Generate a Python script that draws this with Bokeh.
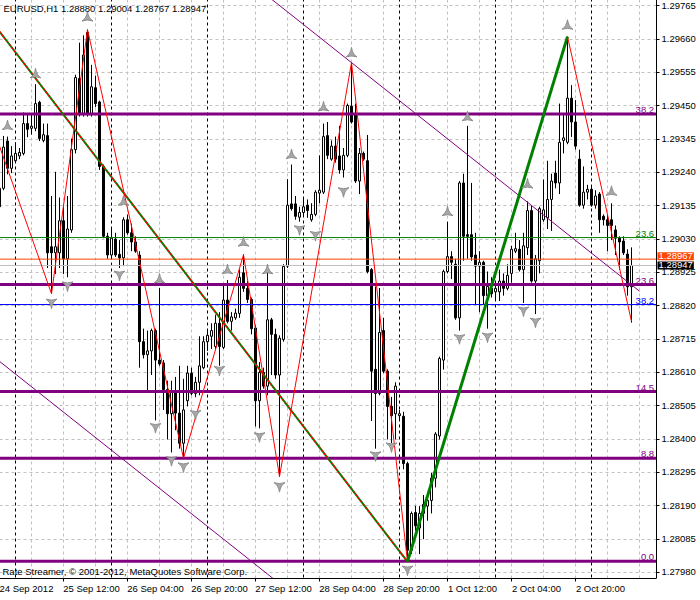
from bokeh.plotting import figure
from bokeh.models import (Range1d, FixedTicker, Label, ColumnDataSource, PrintfTickFormatter,
                          LinearAxis, BoxAnnotation, Span)
from bokeh.embed import file_html
from bokeh.resources import INLINE
from bokeh.core.properties import value

FONT = "Liberation Sans"
FSIZE = "9.5px"

title_text = "EURUSD,H1  1.28880 1.29004 1.28767 1.28947"
copyright_text = "Rate Streamer, \u00a9 2001-2012, MetaQuotes Software Corp."

# H1 bars, first visible bar = 24 Sep 2012 20:00
opens = [1.29132, 1.29190, 1.29339, 1.29253, 1.29277, 1.29292, 1.29300, 1.29394, 1.29379, 1.29379,
         1.29461, 1.29341, 1.29356, 1.29006, 1.28987, 1.28987, 1.29088, 1.28968, 1.29059, 1.29312,
         1.29536, 1.29423, 1.29681, 1.29426, 1.29507, 1.29462, 1.29259, 1.29039, 1.28980, 1.29030,
         1.28982, 1.28971, 1.29091, 1.29050, 1.29021, 1.28980, 1.28707, 1.28666, 1.28678, 1.28742,
         1.28649, 1.28640, 1.28556, 1.28480, 1.28550, 1.28482, 1.28387, 1.28521, 1.28608, 1.28544,
         1.28579, 1.28625, 1.28707, 1.28724, 1.28692, 1.28765, 1.28689, 1.28838, 1.28771, 1.28782,
         1.28796, 1.28924, 1.28875, 1.28840, 1.28750, 1.28521, 1.28610, 1.28567, 1.28776, 1.28730,
         1.28602, 1.28714, 1.28945, 1.29141, 1.29141, 1.29099, 1.29114, 1.29137, 1.29091, 1.29108,
         1.29175, 1.29178, 1.29356, 1.29282, 1.29323, 1.29292, 1.29248, 1.29294, 1.29449, 1.29423,
         1.29213, 1.29300, 1.29277, 1.28934, 1.28620, 1.28544, 1.28742, 1.28614, 1.28503, 1.28480,
         1.28474, 1.28472, 1.28323, 1.28050, 1.28169, 1.28120, 1.28166, 1.28189, 1.28207, 1.28277,
         1.28410, 1.28649, 1.28928, 1.28975, 1.28951, 1.28782, 1.29207, 1.29044, 1.29044, 1.28980,
         1.28945, 1.28957, 1.28852, 1.28875, 1.28864, 1.28864, 1.28898, 1.28875, 1.28922, 1.28992,
         1.28998, 1.28934, 1.29003, 1.29120, 1.28898, 1.28962, 1.29091, 1.29097, 1.29155, 1.29238,
         1.29207, 1.29341, 1.29335, 1.29474, 1.29399, 1.29282, 1.29137, 1.29178, 1.29187, 1.29137,
         1.29172, 1.29102, 1.29091, 1.29091, 1.29059, 1.29033, 1.29024, 1.28983, 1.28880]
highs = [1.29277, 1.29355, 1.29353, 1.29323, 1.29335, 1.29317, 1.29429, 1.29425, 1.29425, 1.29518,
         1.29466, 1.29394, 1.29394, 1.29166, 1.29242, 1.29161, 1.29132, 1.29166, 1.29347, 1.29548,
         1.29649, 1.29672, 1.29690, 1.29579, 1.29545, 1.29466, 1.29265, 1.29050, 1.29068, 1.29050,
         1.29027, 1.29099, 1.29108, 1.29079, 1.29039, 1.28992, 1.28748, 1.28742, 1.28748, 1.28748,
         1.28876, 1.28649, 1.28584, 1.28584, 1.28596, 1.28631, 1.28590, 1.28631, 1.28625, 1.28596,
         1.28724, 1.28724, 1.28742, 1.28765, 1.28792, 1.28800, 1.28887, 1.28901, 1.28800, 1.28811,
         1.28934, 1.28982, 1.28898, 1.28846, 1.28759, 1.28643, 1.28625, 1.28934, 1.28782, 1.28748,
         1.28727, 1.28951, 1.29219, 1.29265, 1.29166, 1.29132, 1.29161, 1.29155, 1.29143, 1.29184,
         1.29294, 1.29394, 1.29399, 1.29341, 1.29353, 1.29387, 1.29317, 1.29457, 1.29585, 1.29457,
         1.29317, 1.29306, 1.29358, 1.28939, 1.28881, 1.28876, 1.28782, 1.28620, 1.28533, 1.28579,
         1.28492, 1.28486, 1.28329, 1.28172, 1.28190, 1.28189, 1.28224, 1.28224, 1.28294, 1.28422,
         1.28660, 1.28934, 1.29085, 1.28992, 1.28968, 1.29213, 1.29236, 1.29387, 1.29207, 1.29050,
         1.28992, 1.28962, 1.28928, 1.28910, 1.28898, 1.28934, 1.28922, 1.28951, 1.29009, 1.29050,
         1.29027, 1.29050, 1.29149, 1.29137, 1.28980, 1.29132, 1.29218, 1.29277, 1.29236, 1.29277,
         1.29457, 1.29423, 1.29668, 1.29515, 1.29468, 1.29312, 1.29259, 1.29201, 1.29195, 1.29184,
         1.29178, 1.29108, 1.29108, 1.29143, 1.29073, 1.29039, 1.29039, 1.28998, 1.29004]
lows = [1.29100, 1.29184, 1.29234, 1.29238, 1.29271, 1.29282, 1.29294, 1.29351, 1.29359, 1.29370,
        1.29339, 1.29335, 1.28939, 1.28858, 1.28920, 1.28939, 1.28920, 1.28910, 1.29050, 1.29300,
        1.29416, 1.29416, 1.29416, 1.29416, 1.29446, 1.29248, 1.29033, 1.28968, 1.28968, 1.28974,
        1.28939, 1.28945, 1.29044, 1.28992, 1.28987, 1.28625, 1.28654, 1.28550, 1.28602, 1.28459,
        1.28631, 1.28492, 1.28399, 1.28358, 1.28428, 1.28370, 1.28340, 1.28503, 1.28538, 1.28532,
        1.28538, 1.28620, 1.28678, 1.28684, 1.28684, 1.28631, 1.28684, 1.28765, 1.28742, 1.28776,
        1.28782, 1.28864, 1.28829, 1.28730, 1.28440, 1.28434, 1.28559, 1.28538, 1.28602, 1.28590,
        1.28282, 1.28707, 1.28939, 1.29120, 1.29091, 1.29085, 1.29102, 1.29097, 1.29085, 1.29102,
        1.29143, 1.29172, 1.29282, 1.29277, 1.29271, 1.29236, 1.29224, 1.29288, 1.29394, 1.29207,
        1.29172, 1.29277, 1.28922, 1.28457, 1.28370, 1.28538, 1.28608, 1.28399, 1.28387, 1.28399,
        1.28457, 1.28305, 1.28014, 1.28038, 1.28112, 1.28038, 1.28085, 1.28143, 1.28166, 1.28248,
        1.28399, 1.28619, 1.28922, 1.28904, 1.28776, 1.28742, 1.28962, 1.28968, 1.28962, 1.28823,
        1.28800, 1.28823, 1.28748, 1.28846, 1.28840, 1.28835, 1.28852, 1.28869, 1.28893, 1.28986,
        1.28928, 1.28829, 1.28980, 1.28893, 1.28794, 1.28922, 1.29085, 1.29062, 1.29056, 1.29190,
        1.29172, 1.29300, 1.29329, 1.29352, 1.29312, 1.29132, 1.29126, 1.29155, 1.29132, 1.29126,
        1.29050, 1.29073, 1.28992, 1.29027, 1.28980, 1.28934, 1.28980, 1.28852, 1.28767]
closes = [1.29190, 1.29320, 1.29253, 1.29292, 1.29300, 1.29303, 1.29394, 1.29376, 1.29386, 1.29457,
          1.29347, 1.29359, 1.28987, 1.28987, 1.29006, 1.29088, 1.28968, 1.29062, 1.29312, 1.29539,
          1.29423, 1.29610, 1.29423, 1.29510, 1.29457, 1.29259, 1.29039, 1.28980, 1.29033, 1.28980,
          1.28971, 1.29091, 1.29050, 1.29021, 1.28992, 1.28707, 1.28666, 1.28678, 1.28742, 1.28649,
          1.28637, 1.28556, 1.28480, 1.28552, 1.28482, 1.28387, 1.28492, 1.28608, 1.28544, 1.28579,
          1.28631, 1.28707, 1.28727, 1.28742, 1.28765, 1.28692, 1.28838, 1.28771, 1.28785, 1.28797,
          1.28910, 1.28875, 1.28840, 1.28748, 1.28521, 1.28610, 1.28567, 1.28776, 1.28730, 1.28602,
          1.28718, 1.28944, 1.29137, 1.29126, 1.29102, 1.29114, 1.29132, 1.29120, 1.29108, 1.29178,
          1.29184, 1.29353, 1.29294, 1.29323, 1.29282, 1.29248, 1.29294, 1.29451, 1.29399, 1.29213,
          1.29300, 1.29282, 1.28928, 1.28614, 1.28544, 1.28736, 1.28614, 1.28503, 1.28474, 1.28567,
          1.28480, 1.28323, 1.28050, 1.28166, 1.28127, 1.28166, 1.28195, 1.28207, 1.28277, 1.28416,
          1.28654, 1.28928, 1.28975, 1.28957, 1.28782, 1.29207, 1.29039, 1.29039, 1.28974, 1.28945,
          1.28957, 1.28852, 1.28881, 1.28858, 1.28875, 1.28898, 1.28875, 1.28916, 1.28998, 1.29000,
          1.28934, 1.29009, 1.29120, 1.28898, 1.28968, 1.29126, 1.29122, 1.29155, 1.29213, 1.29207,
          1.29335, 1.29349, 1.29474, 1.29399, 1.29323, 1.29137, 1.29178, 1.29187, 1.29137, 1.29166,
          1.29091, 1.29091, 1.29073, 1.29073, 1.29033, 1.29021, 1.28987, 1.28880, 1.28947]

# axis ticks / labels
y_ticks = [1.27980, 1.28085, 1.28190, 1.28295, 1.28400, 1.28505, 1.28610, 1.28715, 1.28820,
           1.28925, 1.29030, 1.29135, 1.29240, 1.29345, 1.29450, 1.29555, 1.29660, 1.29765]
x_tick_bars = [0, 16, 32, 48, 64, 80, 96, 112, 128, 144]
x_tick_labels = ["24 Sep 2012", "25 Sep 12:00", "26 Sep 04:00", "26 Sep 20:00", "27 Sep 12:00",
                 "28 Sep 04:00", "28 Sep 20:00", "1 Oct 12:00", "2 Oct 04:00", "2 Oct 20:00"]
grid_bars = [8, 16, 24, 32, 40, 48, 56, 64, 72, 80, 88, 96, 104, 112, 120, 128, 136, 144, 152, 160]
day_start_bars = [4, 28, 52, 76, 100, 124, 148]

# ZigZag
zz_bars = [0, 13, 22, 46, 61, 70, 88, 102]
zz_prices = [1.29323, 1.28858, 1.29690, 1.28340, 1.28981, 1.28282, 1.29586, 1.28014]
zz_up_bars = [102, 142]
zz_up_prices = [1.28014, 1.29668]
zz_last_bars = [142, 158]
zz_last_prices = [1.29668, 1.28771]

# trend line and channel
trend_bars = [0, 102]
trend_prices = [1.29684, 1.28014]
chan_a_bars = [60, 160]
chan_a_prices = [1.29866, 1.28866]
chan_b_bars = [0, 68.4]
chan_b_prices = [1.28645, 1.27961]

# Fibonacci levels
fib_prices = [1.28015, 1.28340, 1.28550, 1.28887, 1.29424]
fib_labels = ["0.0", "8.8", "14.5", "23.6", "38.2"]
fib2_prices = [1.29035, 1.28824]
fib2_labels = ["23.6", "38.2"]
fib2_colors = ["#008000", "#0000ff"]

ask_price = 1.28967
bid_price = 1.28947

# fractal arrows
up_bars = [2, 9, 22, 31, 40, 57, 61, 67, 73, 81, 88, 112, 117, 132, 142, 153]
up_prices = [1.29385, 1.29548, 1.29727, 1.29147, 1.28902, 1.28931, 1.29018, 1.28931, 1.29294,
             1.29444, 1.29614, 1.29114, 1.29413, 1.29201, 1.29701, 1.29178]
dn_bars = [13, 17, 30, 39, 43, 46, 49, 55, 65, 70, 75, 79, 86, 94, 98, 102, 115, 122, 131, 134]
dn_prices = [1.28831, 1.28885, 1.28919, 1.28439, 1.28335, 1.28315, 1.28480, 1.28619, 1.28410,
             1.28253, 1.29062, 1.29044, 1.29182, 1.28350, 1.28378, 1.27990, 1.28719, 1.28724,
             1.28806, 1.28771]

# ---- layout: 4 px per bar, frame spans to the right canvas edge, price axis drawn inside it
W, H = 700, 600
LEFT, TOP, BOTTOM = 3, 2, 18
PX_PER_BAR = 4.0
X_START = 0.0
X_END = X_START + (W - LEFT) / PX_PER_BAR
X_AXIS = X_START + 657 / PX_PER_BAR          # price-axis line position (px 660)
Y_START, Y_END = 1.27961, 1.29788

EM = {c: 0.556 for c in "0123456789"}
EM.update({" ": 0.278, ":": 0.278, "S": 0.667, "e": 0.556, "p": 0.556, "O": 0.778, "c": 0.5, "t": 0.278})


def half_width_bars(s):
    return round(sum(EM.get(ch, 0.556) for ch in s) * 9.5 / 2 / PX_PER_BAR * 4) / 4


p = figure(width=W, height=H, output_backend="svg", toolbar_location=None,
           x_range=Range1d(X_START, X_END), y_range=Range1d(Y_START, Y_END),
           x_axis_location=None, y_axis_location=None,
           min_border_left=LEFT, min_border_right=0, min_border_top=TOP, min_border_bottom=BOTTOM,
           margin=(-4, 0, -4, -4), background_fill_color="white", border_fill_color="white")
p.outline_line_color = None

# grid
p.xgrid.ticker = FixedTicker(ticks=grid_bars)
p.ygrid.ticker = FixedTicker(ticks=y_ticks)
p.grid.grid_line_color = "#c0c0c0"
p.grid.grid_line_dash = "3 3"
p.grid.grid_line_width = 1
p.add_layout(BoxAnnotation(left=X_AXIS, fill_color="white", fill_alpha=1.0,
                           line_color=None, level="underlay"))
for b in day_start_bars:
    p.add_layout(Span(location=b, dimension="height", line_color="black",
                      line_dash="3 3", line_width=1, level="underlay"))

# price axis (inside the frame, at px 660)
yaxis = LinearAxis(fixed_location=X_AXIS, ticker=FixedTicker(ticks=y_ticks),
                   formatter=PrintfTickFormatter(format="%.5f"))
# time axis: tick marks, then left-aligned labels
xaxis_ticks = LinearAxis(ticker=FixedTicker(ticks=x_tick_bars), bounds=(X_START, X_AXIS),
                         major_label_overrides={b: "" for b in x_tick_bars})
x_label_pos = [b + half_width_bars(s) for b, s in zip(x_tick_bars, x_tick_labels)]
xaxis_labels = LinearAxis(ticker=FixedTicker(ticks=x_label_pos),
                          major_label_overrides={q: s for q, s in zip(x_label_pos, x_tick_labels)})
for ax in (yaxis, xaxis_ticks, xaxis_labels):
    ax.axis_line_color = "black"
    ax.major_tick_line_color = "black"
    ax.major_tick_in = 0
    ax.major_tick_out = 3
    ax.minor_tick_line_color = None
    ax.major_label_text_font = FONT
    ax.major_label_text_font_size = FSIZE
    ax.major_label_text_color = "black"
    ax.major_label_standoff = 2
xaxis_ticks.major_label_text_font_size = "0px"
xaxis_ticks.major_label_standoff = 0
xaxis_labels.axis_line_color = None
xaxis_labels.major_tick_line_color = None
xaxis_labels.major_tick_out = 0
xaxis_labels.major_label_standoff = 1
p.add_layout(yaxis, "right")
p.add_layout(xaxis_ticks, "below")
p.add_layout(xaxis_labels, "below")

# candles
idx = list(range(len(opens)))
src = ColumnDataSource(dict(
    x=idx, h=highs, l=lows,
    top=[max(o, c) for o, c in zip(opens, closes)],
    bottom=[min(o, c) for o, c in zip(opens, closes)],
    fill=["white" if c >= o else "black" for o, c in zip(opens, closes)],
))
p.segment(x0="x", y0="l", x1="x", y1="h", source=src, line_color="black", line_width=1)
p.vbar(x="x", width=0.5, top="top", bottom="bottom", fill_color="fill",
       line_color="black", line_width=1, source=src)

# horizontal levels (stop at the price axis)
n1 = len(fib_prices)
p.segment(x0=[X_START] * n1, x1=[X_AXIS] * n1, y0=fib_prices, y1=fib_prices,
          line_color="#800080", line_width=3)
p.segment(x0=[X_START] * 2, x1=[X_AXIS] * 2, y0=fib2_prices, y1=fib2_prices,
          line_color=fib2_colors, line_width=1)
p.segment(x0=[X_START], x1=[X_AXIS], y0=[bid_price], y1=[bid_price], line_color="#c0c0c0", line_width=1)
p.segment(x0=[X_START], x1=[X_AXIS], y0=[ask_price], y1=[ask_price], line_color="#ff4500", line_width=1)

# channel lines
p.line(chan_a_bars, chan_a_prices, line_color="#800080", line_width=1)
p.line(chan_b_bars, chan_b_prices, line_color="#800080", line_width=1)

# trend line (green with red dashes)
p.line(trend_bars, trend_prices, line_color="#008000", line_width=2)
p.line(trend_bars, trend_prices, line_color="#ff0000", line_width=1.5, line_dash="2 2")

# zigzag
p.line(zz_bars, zz_prices, line_color="#ff0000", line_width=1)
p.line(zz_up_bars, zz_up_prices, line_color="#008000", line_width=3)
p.line(zz_last_bars, zz_last_prices, line_color="#ff0000", line_width=1)

# fractal arrows (arrow-head shaped)
p.scatter(up_bars, up_prices, marker="triangle_pin", size=11, fill_color="#a8a8a8",
          line_color="#8c8c8c", line_width=1)
p.scatter(dn_bars, dn_prices, marker="triangle_pin", size=11, angle=3.14159,
          fill_color="#a8a8a8", line_color="#8c8c8c", line_width=1)

# level labels
lab_src = ColumnDataSource(dict(
    x=[X_AXIS - 0.6] * (len(fib_prices) + len(fib2_prices)),
    y=fib_prices + fib2_prices,
    t=fib_labels + fib2_labels,
    c=["#800080"] * len(fib_prices) + fib2_colors,
))
p.text(x="x", y="y", text="t", text_color="c", source=lab_src,
       text_font=value(FONT), text_font_size=value(FSIZE),
       text_align="right", text_baseline="bottom", y_offset=-1)

# chart border (left, top, right edges; bottom is the time axis line)
p.add_layout(BoxAnnotation(left=X_START, right=X_AXIS, top=Y_END,
                           fill_color=None, fill_alpha=0, line_color="black", line_width=1))

# title & copyright
p.add_layout(Label(x=X_START, y=Y_END, x_offset=4, y_offset=-4, text=title_text,
                   text_font=FONT, text_font_size=FSIZE, text_color="black",
                   text_align="left", text_baseline="top"))
p.add_layout(Label(x=X_START, y=Y_START, x_offset=3, y_offset=2, text=copyright_text,
                   text_font=FONT, text_font_size=FSIZE, text_color="black",
                   text_align="left", text_baseline="bottom"))

# current price boxes on the axis
p.add_layout(Label(x=X_AXIS, y=ask_price, x_offset=1, y_offset=3, text="1.28967",
                   text_font=FONT, text_font_size=FSIZE, text_color="white",
                   background_fill_color="#ff4500", text_baseline="middle", padding=1))
p.add_layout(Label(x=X_AXIS, y=bid_price, x_offset=1, y_offset=0, text="1.28947",
                   text_font=FONT, text_font_size=FSIZE, text_color="white",
                   background_fill_color="black", text_baseline="middle", padding=1))

open("out.html", "w").write(file_html(p, INLINE))
